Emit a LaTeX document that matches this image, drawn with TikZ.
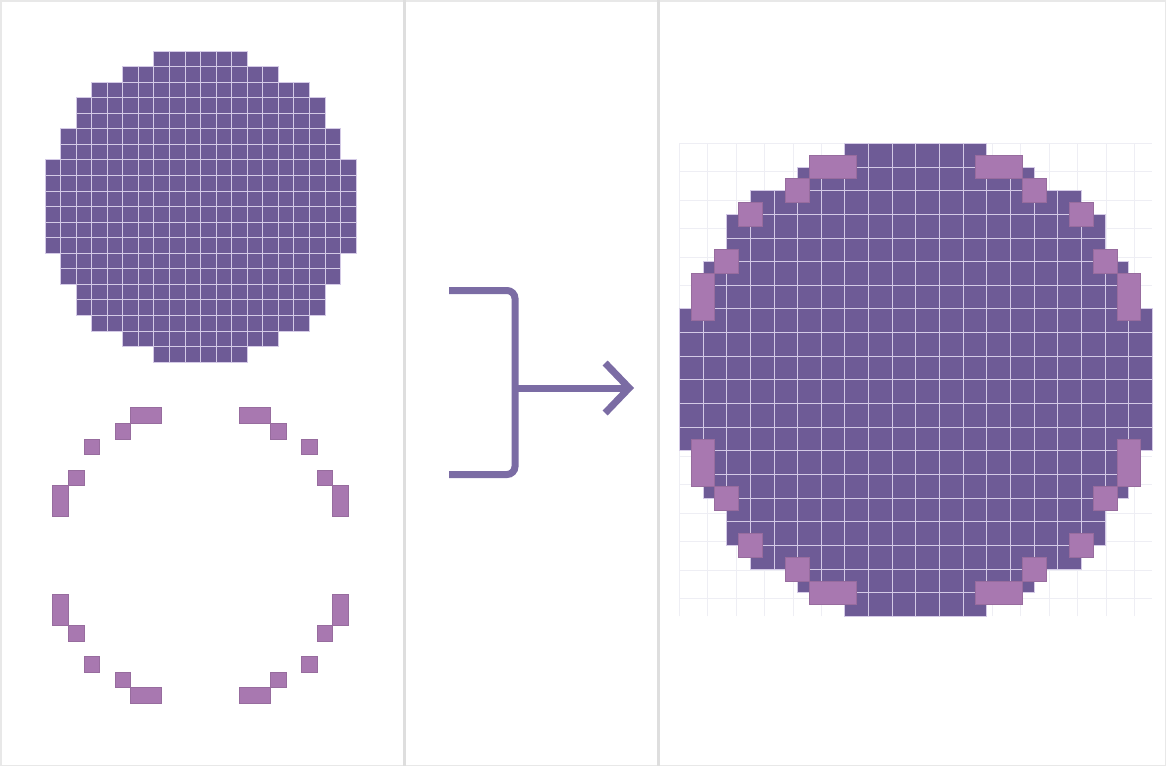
\documentclass[tikz,border=0pt]{standalone}
\usetikzlibrary{arrows.meta, positioning}
\definecolor{discDark}{HTML}{6E5B96}
\definecolor{ringPink}{HTML}{A878B0}
\definecolor{arrowPurple}{HTML}{7B6CA4}
\definecolor{gridLine}{HTML}{D4CAE6}
\definecolor{paperLine}{HTML}{EEEEF4}
\definecolor{panelLine}{HTML}{DEDEDE}
\tikzset{
    disccell/.style={fill=discDark, draw=gridLine, line width=0.8pt},
    ringcell/.style={fill=ringPink, draw=ringPink!90!black, line width=0.6pt},
    papergrid/.style={draw=paperLine, line width=0.8pt},
    frameline/.style={draw=panelLine!70!white, line width=1.5pt},
    divider/.style={draw=panelLine, line width=3pt},
    bracket/.style={draw=arrowPurple, line width=7pt, rounded corners=8pt},
    arrow/.style={-{Straight Barb[length=24pt, width=50pt]}, draw=arrowPurple, line width=7pt},
}
% row / first column / last column of the pixel disc (20 x 20)
\def\discrows{0/7/12, 1/5/14, 2/3/16, 3/2/17, 4/2/17, 5/1/18, 6/1/18,
    7/0/19, 8/0/19, 9/0/19, 10/0/19, 11/0/19, 12/0/19,
    13/1/18, 14/1/18, 15/2/17, 16/2/17, 17/3/16, 18/5/14, 19/7/12}
% column / row / width / height of one quarter of the ring (19 x 19)
\def\ringbits{5/0/2/1, 4/1/1/1, 2/2/1/1, 1/4/1/1, 0/5/1/2}
\newcommand{\drawdisc}{%
    \foreach \r/\a/\b in \discrows {
        \foreach \c in {\a,...,\b} {
            \path[disccell] (\c,\r) rectangle ++(1,1);
        }
    }}
\newcommand{\drawring}{%
    \foreach \x/\y/\w/\h in \ringbits {
        \path[ringcell] (\x,\y) rectangle ++(\w,\h);
        \path[ringcell] ({19-\x-\w},\y) rectangle ++(\w,\h);
        \path[ringcell] (\x,{19-\y-\h}) rectangle ++(\w,\h);
        \path[ringcell] ({19-\x-\w},{19-\y-\h}) rectangle ++(\w,\h);
    }}

\begin{document}
\begin{tikzpicture}[x=1pt, y=-1pt]
    \useasboundingbox (0,0) rectangle (1166,766);

    % panels
    \draw[frameline] (0.75,0.75) rectangle (1165.25,765.25);
    \draw[divider] (404,0) -- (404,766);
    \draw[divider] (658.5,0) -- (658.5,766);

    % left panel: disc and ring
    \begin{scope}[shift={(45,51)}, x=15.55pt, y=-15.55pt]
        \drawdisc
    \end{scope}
    \begin{scope}[shift={(52.7,407.7)}, x=15.55pt, y=-15.55pt]
        \drawring
    \end{scope}

    % middle panel: merge arrow
    \coordinate (bracketTop) at (449,290.5);
    \coordinate (bracketMid) at (515,388);
    \coordinate (bracketBot) at (449,474.5);
    \coordinate (arrowEnd) at (634,388);
    \draw[bracket] (bracketTop) -| (bracketMid) |- (bracketBot);
    \draw[arrow] (bracketMid) -- (arrowEnd);

    % right panel: combined result
    \begin{scope}[shift={(679.3,143.3)}, x=23.65pt, y=-23.65pt]
        \draw[papergrid] (0,0) grid (20,20);
        \drawdisc
    \end{scope}
    \begin{scope}[shift={(691.1,155.1)}, x=23.65pt, y=-23.65pt]
        \drawring
    \end{scope}
\end{tikzpicture}
\end{document}
